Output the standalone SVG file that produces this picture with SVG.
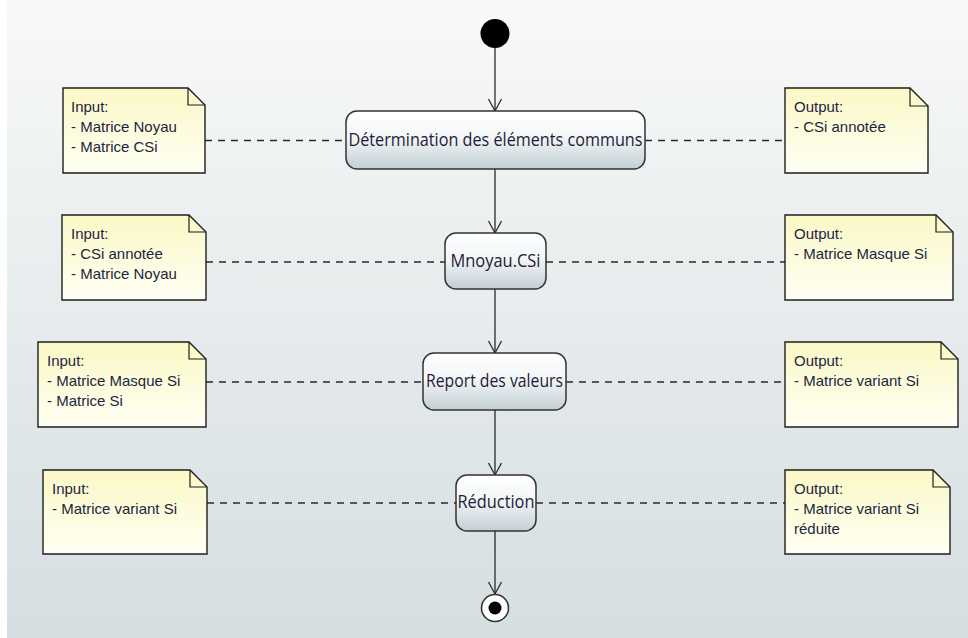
<svg xmlns="http://www.w3.org/2000/svg" width="968" height="638" viewBox="0 0 968 638">
<defs>
<linearGradient id="bg" x1="0" y1="0" x2="0" y2="1">
<stop offset="0" stop-color="#f8f9f9"/>
<stop offset="1" stop-color="#d5dee1"/>
</linearGradient>
<linearGradient id="act" x1="0" y1="0" x2="0" y2="1">
<stop offset="0" stop-color="#ffffff"/>
<stop offset="0.45" stop-color="#f3f6f7"/>
<stop offset="1" stop-color="#c3cfd4"/>
</linearGradient>
<linearGradient id="note" x1="0" y1="0" x2="0" y2="1">
<stop offset="0" stop-color="#fbf8c6"/>
<stop offset="1" stop-color="#fffff4"/>
</linearGradient>
<marker id="arr" markerWidth="16" markerHeight="16" refX="13" refY="8" orient="auto" markerUnits="userSpaceOnUse">
<path d="M1,1.5 L13,8 L1,14.5" fill="none" stroke="#2a2a2a" stroke-width="1.3"/>
</marker>
</defs>
<style>
.act{fill:url(#act);stroke:#333;stroke-width:1.5}
.note{fill:url(#note);stroke:#1e1e1e;stroke-width:1.4}
.fold{fill:none;stroke:#1e1e1e;stroke-width:1.2}
.lbl{font-family:"Open Sans","Liberation Sans",sans-serif;font-size:17.5px;fill:#241a3a;text-anchor:middle}
.nt{font-family:"Liberation Sans",Arial,sans-serif;font-size:15px;fill:#1c2640}
.flow{stroke:#2a2a2a;stroke-width:1.3;fill:none;marker-end:url(#arr)}
.dash{stroke:#2a2a2a;stroke-width:1.3;stroke-dasharray:7 6;fill:none}
</style>
<rect x="0" y="0" width="968" height="638" fill="#ffffff"/>
<rect x="7" y="0" width="961" height="638" fill="url(#bg)"/>

<g id="connectors">
<line class="flow" x1="495" y1="48" x2="495" y2="111"/>
<line class="flow" x1="495" y1="169" x2="495" y2="233"/>
<line class="flow" x1="495" y1="289" x2="495" y2="353"/>
<line class="flow" x1="495" y1="410" x2="495" y2="475"/>
<line class="flow" x1="495" y1="531" x2="495" y2="594"/>
<line class="dash" x1="205" y1="140.5" x2="346" y2="140.5"/>
<line class="dash" x1="645" y1="140.5" x2="785" y2="140.5"/>
<line class="dash" x1="206" y1="262" x2="445" y2="262"/>
<line class="dash" x1="546" y1="262" x2="785" y2="262"/>
<line class="dash" x1="206" y1="382" x2="423" y2="382"/>
<line class="dash" x1="566" y1="382" x2="785" y2="382"/>
<line class="dash" x1="207" y1="503" x2="456" y2="503"/>
<line class="dash" x1="536" y1="503" x2="785" y2="503"/>
</g>

<g id="start">
<circle cx="495" cy="33.5" r="14.5" fill="#000"/>
</g>

<g id="act1">
<rect class="act" x="346" y="111" width="299" height="58" rx="11"/>
<text class="lbl" x="495.5" y="146" textLength="294" lengthAdjust="spacingAndGlyphs">Détermination des éléments communs</text>
</g>
<g id="act2">
<rect class="act" x="445" y="233" width="101" height="56" rx="11"/>
<text class="lbl" x="495.5" y="267" textLength="90" lengthAdjust="spacingAndGlyphs">Mnoyau.CSi</text>
</g>
<g id="act3">
<rect class="act" x="423" y="353" width="143" height="57" rx="11"/>
<text class="lbl" x="494.5" y="387" textLength="137" lengthAdjust="spacingAndGlyphs">Report des valeurs</text>
</g>
<g id="act4">
<rect class="act" x="456" y="475" width="80" height="56" rx="11"/>
<text class="lbl" x="496" y="508" textLength="77" lengthAdjust="spacingAndGlyphs">Réduction</text>
</g>

<g id="end">
<circle cx="495" cy="608" r="13.5" fill="#fff" stroke="#333" stroke-width="1.6"/>
<circle cx="495" cy="608" r="6.5" fill="#000"/>
</g>

<g id="in1">
<path class="note" d="M63,88 H188 L205,105 V173 H63 Z"/>
<path class="fold" d="M188,88 V105 H205"/>
<text class="nt" x="71" y="112">Input:</text>
<text class="nt" x="71" y="132">- Matrice Noyau</text>
<text class="nt" x="71" y="152">- Matrice CSi</text>
</g>
<g id="out1">
<path class="note" d="M785,88 H910 L928,106 V173 H785 Z"/>
<path class="fold" d="M910,88 V106 H928"/>
<text class="nt" x="794" y="112">Output:</text>
<text class="nt" x="794" y="132">- CSi annotée</text>
</g>

<g id="in2">
<path class="note" d="M62,215 H189 L206,232 V300 H62 Z"/>
<path class="fold" d="M189,215 V232 H206"/>
<text class="nt" x="71" y="239">Input:</text>
<text class="nt" x="71" y="259">- CSi annotée</text>
<text class="nt" x="71" y="279">- Matrice Noyau</text>
</g>
<g id="out2">
<path class="note" d="M785,215 H936 L953,232 V300 H785 Z"/>
<path class="fold" d="M936,215 V232 H953"/>
<text class="nt" x="794" y="239">Output:</text>
<text class="nt" x="794" y="259">- Matrice Masque Si</text>
</g>

<g id="in3">
<path class="note" d="M38,342 H189 L206,359 V427 H38 Z"/>
<path class="fold" d="M189,342 V359 H206"/>
<text class="nt" x="47" y="366">Input:</text>
<text class="nt" x="47" y="386">- Matrice Masque Si</text>
<text class="nt" x="47" y="406">- Matrice Si</text>
</g>
<g id="out3">
<path class="note" d="M785,342 H941 L958,359 V427 H785 Z"/>
<path class="fold" d="M941,342 V359 H958"/>
<text class="nt" x="794" y="366">Output:</text>
<text class="nt" x="794" y="386">- Matrice variant Si</text>
</g>

<g id="in4">
<path class="note" d="M43,470 H190 L207,487 V554 H43 Z"/>
<path class="fold" d="M190,470 V487 H207"/>
<text class="nt" x="52" y="494">Input:</text>
<text class="nt" x="52" y="514">- Matrice variant Si</text>
</g>
<g id="out4">
<path class="note" d="M785,470 H933 L950,487 V554 H785 Z"/>
<path class="fold" d="M933,470 V487 H950"/>
<text class="nt" x="794" y="494">Output:</text>
<text class="nt" x="794" y="514">- Matrice variant Si</text>
<text class="nt" x="794" y="534">réduite</text>
</g>
</svg>
